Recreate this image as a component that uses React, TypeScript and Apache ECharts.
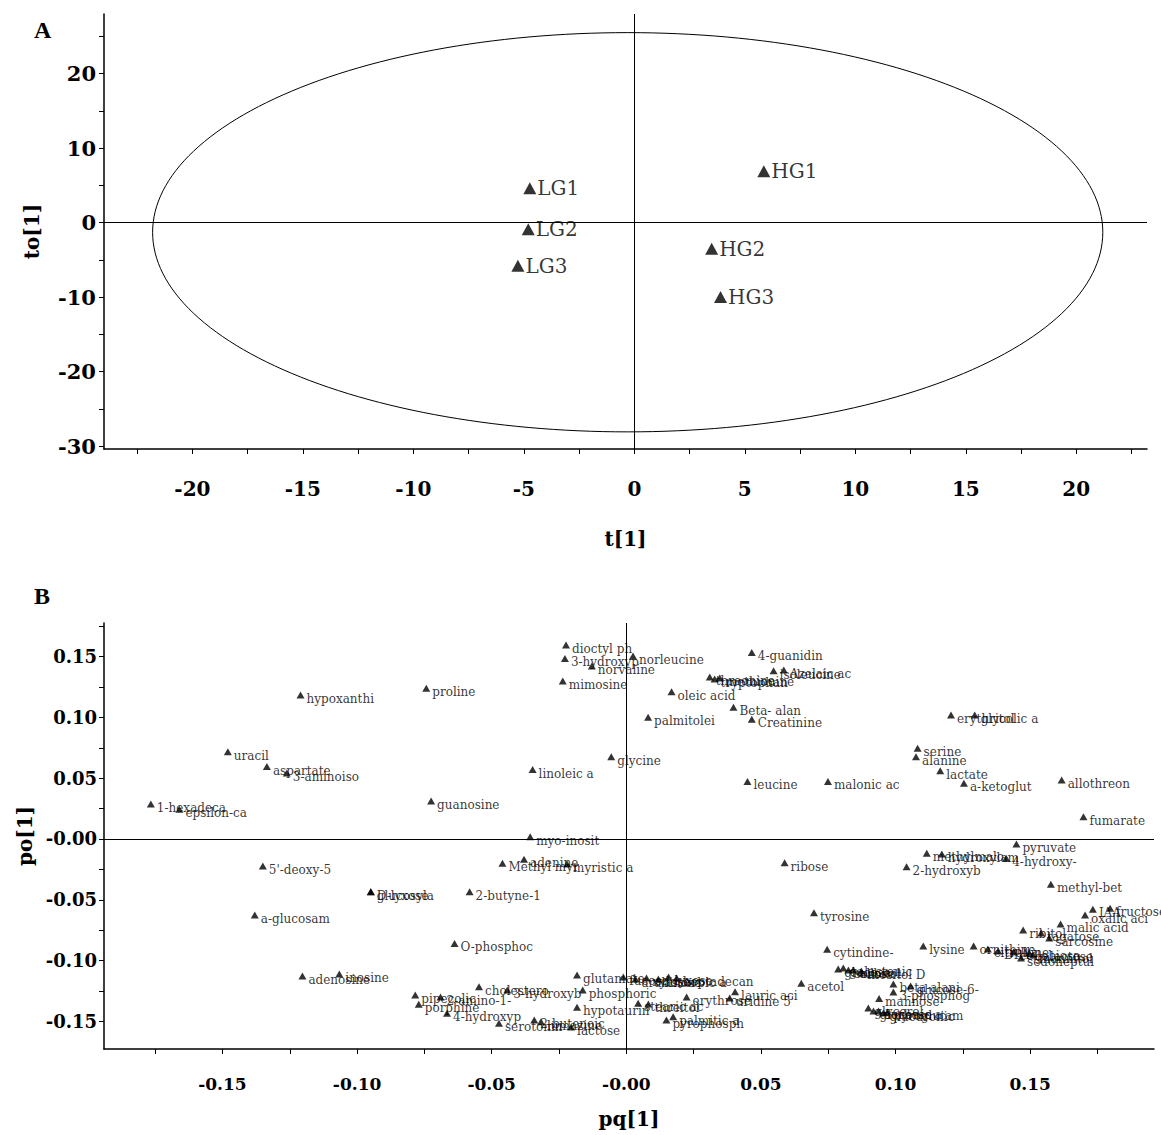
import React, { useEffect, useRef } from "react";
import * as echarts from "echarts";

// ---------- Panel A : score plot ----------
const scoreNames = ["LG1", "LG2", "LG3", "HG1", "HG2", "HG3"];
const scoreT = [-4.73, -4.8, -5.27, 5.86, 3.5, 3.9];
const scoreTo = [4.6, -0.9, -5.8, 6.9, -3.5, -10.0];

const ellipseCenter = [-0.3, -1.3];
const ellipseRadii = [21.5, 26.8];

const aXLabels = [-20, -15, -10, -5, 0, 5, 10, 15, 20];
const aXTicks = [-22.5, -20, -17.5, -15, -12.5, -10, -7.5, -5, -2.5, 0, 2.5, 5, 7.5, 10, 12.5, 15, 17.5, 20, 22.5];
const aYLabels = [-30, -20, -10, 0, 10, 20];
const aYTicks = [-30, -25, -20, -15, -10, -5, 0, 5, 10, 15, 20, 25];

// ---------- Panel B : loading plot ----------
const loadNames = [
  "dioctyl ph", "3-hydroxyp", "norleucine", "norvaline", "mimosine", "4-guanidin", "isoleucine", "Azelaic ac",
  "threonine", "tryptophan", "methionine", "oleic acid", "Beta- alan", "Creatinine", "palmitolei", "glycine",
  "linoleic a", "leucine", "malonic ac", "myo-inosit", "hypoxanthi", "proline", "uracil", "aspartate",
  "3-aminoiso", "1-hexadeca", "epsilon-ca", "guanosine", "erythritol", "glycolic a", "serine", "alanine",
  "lactate", "a-ketoglut", "allothreon", "fumarate", "5'-deoxy-5", "D-lyxose", "glucosyla", "2-butyne-1",
  "a-glucosam", "O-phosphoc", "adenosine", "inosine", "pipecolic", "porphine", "2-amino-1-", "4-hydroxyp",
  "cholestero", "adenine", "Methyl myr", "myristic a", "ribose", "tyrosine", "cytindine-", "glutamate",
  "fucose", "arabinose", "xylose", "ascorbic a", "lyxose", "heptadecan", "3-hydroxyb", "phosphoric",
  "hypotaurin", "stearic ac", "threitol", "erythrose", "lauric aci", "uridine 5'", "acetol", "palmitic a",
  "pyrophosph", "2-butenoic", "lumazine", "serotonin", "lactose", "methylmalo", "hydroxylam", "pyruvate",
  "4-hydroxy-", "2-hydroxyb", "methyl-bet", "oxalic aci", "IAA", "fructose", "malic acid", "ribitol",
  "tagatose", "sarcosine", "lysine", "ornithine", "citrulline", "DPA", "cellobiose", "galactose",
  "sedoheptul", "mannitol", "glucose", "galactonic", "sorbitol", "allose", "inositol D", "beta-alani",
  "glucose-6-", "3-phosphog", "mannose", "glycerol", "gluconic a", "sorbose", "glucuronic", "pyroglutam",
];
const loadPq = [
  -0.0224, -0.0228, 0.0025, -0.0128, -0.0236, 0.0466, 0.0547, 0.0585,
  0.031, 0.0328, 0.0347, 0.0168, 0.0398, 0.0466, 0.0081, -0.0056,
  -0.0348, 0.045, 0.0749, -0.0357, -0.121, -0.0743, -0.148, -0.1335,
  -0.1261, -0.1766, -0.166, -0.0725, 0.1206, 0.1294, 0.1082, 0.1076,
  0.1166, 0.1254, 0.1617, 0.1698, -0.135, -0.0949, -0.0949, -0.0582,
  -0.138, -0.0638, -0.1203, -0.1066, -0.0784, -0.0771, -0.069, -0.0666,
  -0.0547, -0.038, -0.046, -0.022, 0.0588, 0.0697, 0.0746, -0.0183,
  -0.0011, 0.0034, 0.0075, 0.0119, 0.0157, 0.0187, -0.0442, -0.0162,
  -0.0183, 0.0044, 0.0082, 0.0224, 0.0404, 0.0384, 0.065, 0.0174,
  0.0149, -0.0342, -0.0317, -0.0473, -0.0205, 0.1116, 0.1172, 0.1449,
  0.1411, 0.1041, 0.1577, 0.1704, 0.1733, 0.1797, 0.1613, 0.1474,
  0.1541, 0.1571, 0.1103, 0.129, 0.1343, 0.1381, 0.1438, 0.1496,
  0.1466, 0.1511, 0.0787, 0.0806, 0.0825, 0.0843, 0.0873, 0.0992,
  0.1056, 0.0992, 0.0939, 0.0899, 0.0918, 0.0937, 0.0955, 0.097,
];
const loadPo = [
  0.1595, 0.1485, 0.1505, 0.1423, 0.13, 0.1534, 0.1383, 0.139,
  0.1332, 0.1316, 0.1324, 0.1211, 0.1083, 0.0984, 0.1, 0.0677,
  0.0571, 0.0473, 0.0473, 0.0019, 0.1184, 0.1239, 0.0718, 0.0595,
  0.0543, 0.0288, 0.0244, 0.0312, 0.102, 0.102, 0.0746, 0.0677,
  0.0562, 0.0458, 0.0485, 0.0183, -0.0222, -0.0433, -0.0433, -0.0433,
  -0.0625, -0.0859, -0.1127, -0.111, -0.1283, -0.136, -0.13, -0.1434,
  -0.1215, -0.0167, -0.02, -0.0205, -0.0195, -0.0606, -0.0907, -0.1118,
  -0.1135, -0.1151, -0.1143, -0.1151, -0.1135, -0.1143, -0.1242, -0.1242,
  -0.1384, -0.1351, -0.1357, -0.13, -0.1256, -0.1308, -0.1187, -0.1461,
  -0.1488, -0.1488, -0.1502, -0.1516, -0.1546, -0.0118, -0.0124, -0.0041,
  -0.0159, -0.0228, -0.0373, -0.0625, -0.0578, -0.057, -0.0699, -0.0748,
  -0.0773, -0.0814, -0.088, -0.088, -0.0905, -0.0921, -0.0929, -0.0938,
  -0.0979, -0.0954, -0.1069, -0.1061, -0.1077, -0.1077, -0.1086, -0.1192,
  -0.1209, -0.1258, -0.1311, -0.139, -0.1414, -0.1414, -0.1431, -0.1422,
];

const bXLabels = [-0.15, -0.1, -0.05, 0, 0.05, 0.1, 0.15];
const bXTicks = [-0.175, -0.15, -0.125, -0.1, -0.075, -0.05, -0.025, 0, 0.025, 0.05, 0.075, 0.1, 0.125, 0.15, 0.175];
const bYLabels = [-0.15, -0.1, -0.05, 0, 0.05, 0.1, 0.15];
const bYTicks = [-0.15, -0.125, -0.1, -0.075, -0.05, -0.025, 0, 0.025, 0.05, 0.075, 0.1, 0.125, 0.15, 0.175];

const BOLD_SERIF = "DejaVu Serif";
const LABEL_SERIF = "DejaVu Serif";

function ellipsePoints(): number[][] {
  const pts: number[][] = [];
  const n = 240;
  for (let i = 0; i <= n; i++) {
    const a = (i / n) * Math.PI * 2;
    pts.push([ellipseCenter[0] + ellipseRadii[0] * Math.cos(a), ellipseCenter[1] + ellipseRadii[1] * Math.sin(a)]);
  }
  return pts;
}

function axisBase(labels: number[], ticks: number[], fmt: (v: number) => string, margin: number, fontSize: number) {
  return {
    type: "value" as const,
    axisLine: { show: true, onZero: false, lineStyle: { color: "#000", width: 1.5 } },
    axisTick: { show: true, customValues: ticks, length: 5, lineStyle: { color: "#000", width: 1 } },
    axisLabel: {
      customValues: labels,
      formatter: fmt,
      color: "#000",
      fontFamily: BOLD_SERIF,
      fontWeight: "bold" as const,
      fontSize,
      margin,
    },
    splitLine: { show: false },
    nameTextStyle: { color: "#000", fontFamily: BOLD_SERIF, fontWeight: "bold" as const, fontSize: 20 },
    nameLocation: "middle" as const,
  };
}

const fmtA = (v: number) => String(v);
const fmtB = (v: number) => (Math.abs(v) < 1e-9 ? "-0.00" : v.toFixed(2));

export default function App() {
  const ref = useRef<HTMLDivElement>(null);
  useEffect(() => {
    if (!ref.current) return;
    const chart = echarts.init(ref.current, null, { renderer: "svg" });
    const zeroLines = {
      silent: true,
      symbol: ["none", "none"],
      label: { show: false },
      lineStyle: { color: "#000", width: 1, type: "solid" as const },
      emphasis: { disabled: true },
      data: [{ xAxis: 0 }, { yAxis: 0 }],
    };
    const option = {
      animation: false,
      backgroundColor: "#fff",
      grid: [
        { left: 104, top: 14, width: 1043, height: 435 },
        { left: 104, top: 623, width: 1050, height: 426 },
      ],
      xAxis: [
        { ...axisBase(aXLabels, aXTicks, fmtA, 30, 20), gridIndex: 0, min: -24, max: 23.2, name: "t[1]", nameGap: 80 },
        { ...axisBase(bXLabels, bXTicks, fmtB, 26, 17), gridIndex: 1, min: -0.194, max: 0.196, name: "pq[1]", nameGap: 60 },
      ],
      yAxis: [
        { ...axisBase(aYLabels, aYTicks, fmtA, 8, 21), gridIndex: 0, min: -30.4, max: 28, name: "to[1]", nameGap: 62 },
        { ...axisBase(bYLabels, bYTicks, fmtB, 7, 18), gridIndex: 1, min: -0.1727, max: 0.1776, name: "po[1]", nameGap: 62 },
      ],
      graphic: [
        { type: "text", left: 34, top: 18, style: { text: "A", font: `bold 24px "Liberation Serif"`, fill: "#000" } },
        { type: "text", left: 34, top: 584, style: { text: "B", font: `bold 24px "Liberation Serif"`, fill: "#000" } },
      ],
      series: [
        {
          type: "line",
          xAxisIndex: 0,
          yAxisIndex: 0,
          data: ellipsePoints(),
          symbol: "none",
          silent: true,
          lineStyle: { color: "#000", width: 1 },
          markLine: zeroLines,
          z: 1,
        },
        {
          type: "scatter",
          xAxisIndex: 0,
          yAxisIndex: 0,
          symbol: "triangle",
          symbolSize: [13, 12],
          itemStyle: { color: "#000" },
          data: scoreNames.map((n, i) => ({ name: n, value: [scoreT[i], scoreTo[i]] })),
          label: {
            show: true,
            position: "right",
            distance: 1,
            formatter: "{b}",
            color: "#000",
            fontFamily: LABEL_SERIF,
            fontSize: 20,
          },
          z: 3,
        },
        {
          type: "line",
          xAxisIndex: 1,
          yAxisIndex: 1,
          data: [],
          symbol: "none",
          silent: true,
          markLine: zeroLines,
          z: 1,
        },
        {
          type: "scatter",
          xAxisIndex: 1,
          yAxisIndex: 1,
          symbol: "triangle",
          symbolSize: [8, 7],
          itemStyle: { color: "#000" },
          data: loadNames.map((n, i) => ({ name: n, value: [loadPq[i], loadPo[i]] })),
          label: {
            show: true,
            position: "right",
            distance: 2,
            offset: [0, 4],
            formatter: "{b}",
            color: "#000",
            fontFamily: LABEL_SERIF,
            fontSize: 12,
          },
          z: 3,
        },
      ],
    };
    chart.setOption(option as any);
    return () => chart.dispose();
  }, []);
  return <div ref={ref} style={{ position: "absolute", left: 0, top: 0, width: 1161, height: 1135 }} />;
}
